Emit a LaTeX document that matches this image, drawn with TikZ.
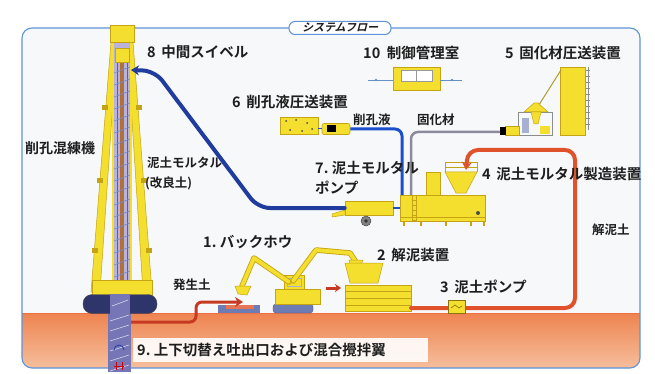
\documentclass[tikz,border=0pt]{standalone}
\usepackage{fontspec}
\newfontfamily\jp{Noto Sans CJK JP}[BoldFont={* Bold}]
\newfontfamily\jpslant{Noto Sans CJK JP}[BoldFont={* Bold},FakeSlant=0.25]
\usetikzlibrary{arrows.meta}

\definecolor{framebl}{HTML}{5E94D8}
\definecolor{panel}{HTML}{F7F8FA}
\definecolor{labeltext}{HTML}{1E1E1E}
\definecolor{flowbl}{HTML}{1F3C9E}
\definecolor{fluidbl}{HTML}{1C4FCB}
\definecolor{hardgray}{HTML}{8C8A9C}
\definecolor{mudred}{HTML}{E0522C}
\definecolor{soilred}{HTML}{C73A22}
\definecolor{yel}{HTML}{F4DE2E}
\definecolor{ydark}{HTML}{C4A414}
\definecolor{trackbl}{HTML}{6E7CB4}
\definecolor{crawler}{HTML}{2E356A}
\definecolor{rodlav}{HTML}{B9B2DC}
\definecolor{rodbelow}{HTML}{7676B6}
\definecolor{rodcore}{HTML}{B0703A}
\definecolor{groundtop}{HTML}{EE8450}
\definecolor{groundbot}{HTML}{F6BE9C}

\begin{document}
\begin{tikzpicture}[x=1pt,y=-1pt,
  lbl/.style={anchor=west, inner sep=0pt, text=labeltext,
    font=\jp\bfseries\fontsize{14.5}{15}\selectfont},
  slbl/.style={anchor=west, inner sep=0pt, text=labeltext,
    font=\jp\bfseries\fontsize{12.5}{13}\selectfont},
  machine/.style={draw=ydark, fill=yel, line width=0.6pt, inner sep=0pt},
  flowline/.style={line width=4pt, line cap=round, rounded corners=12},
  tip/.style={-{Stealth[length=8pt,width=10pt]}}
]
\useasboundingbox (0,0) rectangle (655,374);

% ---------- panel and ground ----------
\fill[panel, rounded corners=10] (22,28) rectangle (640,368);
\begin{scope}
  \clip[rounded corners=10] (22,28) rectangle (640,368);
  \shade[top color=groundtop, bottom color=groundbot] (22,313) rectangle (640,368);
  \draw[groundtop!85!red, line width=1pt] (22,313.5) -- (640,313.5);
\end{scope}
\draw[framebl, line width=1.1pt, rounded corners=10] (22,28) rectangle (640,368);

% title tab
\node[draw=framebl, fill=white, line width=1pt, rounded corners=6,
      minimum width=102pt, minimum height=13pt, inner sep=0pt,
      font=\jpslant\bfseries\fontsize{11}{11}\selectfont, text=labeltext]
      (title) at (340,28) {システムフロー};

% ---------- drilling rig ----------
% rod below ground
\fill[rodbelow] (108,313) rectangle (131,372);
\foreach \y in {318,328,...,368} \draw[white!70!rodbelow, line width=0.6pt] (110,\y+3) -- (129,\y-3);
\draw[flowbl, line width=0.8pt] (114,350) arc[start angle=180, end angle=360, radius=5];
\draw[red!80!black, line width=0.8pt] (114,366) -- (124,366) (116,362) -- (116,370) (122,362) -- (122,370);
% legs
\filldraw[fill=yel, draw=ydark, line width=0.5pt] (111,42) -- (117,42) -- (100,292) -- (91,292) -- cycle;
\filldraw[fill=yel, draw=ydark, line width=0.5pt] (127,42) -- (133,42) -- (152,292) -- (143,292) -- cycle;
\foreach \y/\xl/\xr in {105/104/140, 178/99/145, 248/94/150}
  { \fill[ydark] (\xl-2,\y) rectangle (\xl+4,\y+5);
    \fill[ydark] (\xr-4,\y) rectangle (\xr+2,\y+5); }
% mast
\filldraw[fill=rodlav, draw=yel, line width=2pt] (113,40) rectangle (131,300);
\fill[rodcore] (120,62) rectangle (124,300);
\draw[flowbl!80, line width=1pt] (117,62) -- (117,300) (127,62) -- (127,300);
\foreach \y in {70,82,...,296} \draw[flowbl!60, line width=0.7pt] (114,\y+3) -- (130,\y-3);
\filldraw[fill=yel, draw=ydark, line width=0.5pt] (110,25) rectangle (134,42);
\filldraw[fill=yel, draw=ydark, line width=0.5pt] (115,48) rectangle (129,62);
% base frame and crawler
\filldraw[fill=yel, draw=ydark, line width=0.5pt] (92,280) rectangle (152,295);
\node[draw=black!70, fill=crawler, rounded corners=9, minimum width=74pt,
      minimum height=19pt, inner sep=0pt] (crawler) at (120,304) {};
\fill[rodbelow] (110,294) rectangle (130,314);
\draw[white!70!rodbelow, line width=0.6pt] (112,306) -- (128,300);
\coordinate (swivel) at (131,70);
\coordinate (soilout) at (131,322);

% ---------- control room (10) ----------
\node[machine, minimum width=47pt, minimum height=23pt] (ctrl) at (416.5,78.5) {};
\filldraw[fill=white, draw=black!40, line width=0.5pt] (401,70) rectangle (432,81);
\draw[black!40, line width=0.5pt] (416.5,70) -- (416.5,81);
\draw[framebl!80!gray, line width=0.7pt] (368,80) -- (ctrl.west |- 0,80);
\draw[framebl!80!gray, line width=0.7pt] (ctrl.east |- 0,80) -- (462,80);
\fill[framebl!80!gray] (376,80) circle (1.3pt) (452,80) circle (1.3pt);

% ---------- drilling fluid pump (6) ----------
\node[machine, minimum width=38pt, minimum height=17pt] (plant6) at (299,126) {};
\foreach \p in {(286,121),(296,120),(307,123),(290,130),(302,131),(312,129)}
  \fill[black!70] \p circle (1pt);
\node[machine, minimum width=28pt, minimum height=11pt, rounded corners=2] (pump6) at (336,129) {};
\fill[black] (327,125) rectangle (336,132);
\draw[fluidbl, line width=1pt] (plant6.east |- 0,129) -- (pump6.west);

% ---------- hardener plant (5) ----------
\node[machine, minimum width=25pt, minimum height=68pt] (silo5) at (572.5,101) {};
\draw[black!45, line width=0.6pt] (588,67) -- (588,130);
\foreach \y in {70,76,...,128} \draw[black!45, line width=0.5pt] (586,\y) -- (590,\y);
\draw[ydark!70!gray, line width=1pt] (537,108) -- (561,70);
\draw[black!45, line width=0.6pt] (518,112) rectangle (552,135);
\filldraw[fill=yel, draw=ydark, line width=0.5pt] (524,112) -- (548,112) -- (538,103) -- (534,103) -- cycle;
\filldraw[fill=yel, draw=ydark, line width=0.5pt] (531,112) -- (541,112) -- (538,124) -- (534,124) -- cycle;
\fill[trackbl!60] (522,118) rectangle (529,133);
\fill[yel] (540,126) rectangle (550,134);
\node[machine, minimum width=14pt, minimum height=9pt] (feed5) at (512,131) {};
\fill[black] (500,127) rectangle (506,135);
\coordinate (hardout) at (500,132);

% ---------- connectors into the mixer ----------
\draw[fluidbl, line width=3pt, rounded corners=7] (pump6.east) -- (402,129) -- (402,196);
\draw[hardgray, line width=2.5pt, rounded corners=7] (hardout) -- (411,132) -- (411,196);

% ---------- mortar plant (4) ----------
\node[machine, minimum width=85pt, minimum height=26pt] (mixer) at (442.5,208) {};
\foreach \x in {403,420,445,470,483} \fill[ydark] (\x,221) rectangle (\x+2,226);
\draw[ydark, line width=0.5pt] (400,217) -- (485,217);
\filldraw[fill=yel, draw=ydark, line width=0.5pt] (426,172) rectangle (440,195);
\filldraw[fill=yel, draw=ydark, line width=0.5pt] (445,172) -- (477,172) -- (466,193) -- (456,193) -- cycle;
\draw[ydark, line width=0.5pt] (445,162) -- (445,172) (477,162) -- (477,172) (445,162) -- (477,162) (445,167) -- (477,167);
\draw[ydark, line width=0.5pt] (412,196) -- (412,221) (416,196) -- (416,221);
\foreach \y in {200,205,...,220} \draw[ydark, line width=0.4pt] (412,\y) -- (416,\y);
\fill[black!70] (478,213) circle (2pt);
\coordinate (hopper) at (466,170);

% ---------- mortar pump (7) ----------
\node[machine, minimum width=48pt, minimum height=14pt] (pump7) at (369,208) {};
\filldraw[fill=yel, draw=ydark, line width=0.5pt] (345,210) -- (332,214) -- (332,217) -- (345,215) -- cycle;
\filldraw[fill=black!50, draw=black!70, line width=0.5pt] (366,221) circle (5pt);
\fill[black!80] (366,221) circle (1.8pt);
\draw[fluidbl, line width=1.5pt] (pump7.east) -- (mixer.west |- pump7.east);

% slurry mortar to swivel
\draw[flowbl, flowline, tip] (pump7.west) -- (258,208) -- (155,71) -- (swivel);

% ---------- backhoe (1) ----------
\fill[trackbl] (218,305) rectangle (260,313);
\fill[mudred!80] (226,305) rectangle (254,309);
\node[draw=trackbl!70!black, fill=trackbl, rounded corners=3, minimum width=40pt,
      minimum height=9pt, inner sep=0pt] (bh) at (293,308.5) {};
\filldraw[fill=yel, draw=ydark, line width=0.5pt] (275,289) -- (320,289) -- (320,304) -- (275,304) -- cycle;
\filldraw[fill=yel, draw=ydark, line width=0.5pt] (284,275) rectangle (304,289);
\draw[trackbl!60, line width=0.6pt] (287,278) rectangle (301,286);
\draw[ydark, line width=5.5pt, line cap=round, line join=round] (289,282) -- (254,258) -- (242,286);
\draw[yel, line width=3.8pt, line cap=round, line join=round] (289,282) -- (254,258) -- (242,286);
\filldraw[fill=yel, draw=ydark, line width=0.5pt] (235,286) -- (251,286) -- (247,295) -- (238,294) -- cycle;
\draw[ydark, line width=5.5pt, line cap=round, line join=round] (293,281) -- (316,250) -- (350,253) -- (356,262);
\draw[yel, line width=3.8pt, line cap=round, line join=round] (293,281) -- (316,250) -- (350,253) -- (356,262);
\filldraw[fill=yel, draw=ydark, line width=0.5pt] (349,260) -- (363,260) -- (359,269) -- (351,268) -- cycle;

% ---------- de-clumping unit (2) ----------
\filldraw[fill=yel, draw=ydark, line width=0.5pt] (345,263) -- (383,263) -- (378,283) -- (350,283) -- cycle;
\node[machine, minimum width=66pt, minimum height=26pt] (mud2) at (378,298) {};
\foreach \y in {291,298,305} \draw[ydark, line width=0.5pt] (345,\y) -- (411,\y);
\coordinate (mudout) at (411,308);

% soil from the rig to the backhoe
\draw[soilred, line width=3pt, rounded corners=6, tip] (soilout) -- (196,322) -- (196,302) -- (243,302);
% soil from the backhoe to the unit
\draw[soilred, line width=3pt, -{Stealth[length=6pt,width=8pt]}] (326,288) -- (341,288);

% de-clumped soil loop through the pump (3) to the mixer
\draw[mudred, flowline, rounded corners=10, tip] (mudout) -- (575,308) -- (575,150) -- (468,150) -- (hopper);
\node[machine, draw=ydark!70!black, minimum width=17pt, minimum height=13pt] (pump3) at (456.5,307) {};
\draw[ydark!60!black, line width=0.5pt] (451,308) -- (455,305) -- (459,308) -- (462,306);

% ---------- labels ----------
\node[lbl] (l8) at (147,52) {8\,\ 中間スイベル};
\node[lbl, font=\jp\bfseries\fontsize{14}{15}\selectfont] (lrig) at (25,148) {削孔混練機};
\node[slbl] (lmortar) at (147,163) {泥土モルタル};
\node[slbl] (limp) at (145,183) {(改良土)};
\node[lbl] (l10) at (363,53) {10\ \ 制御管理室};
\node[lbl] (l5) at (505,53) {5\,\ 固化材圧送装置};
\node[lbl] (l6) at (232,102) {6\,\ 削孔液圧送装置};
\node[slbl] (lfluid) at (353,120) {削孔液};
\node[slbl] (lhard) at (417,120) {固化材};
\node[lbl] (l7) at (315,168) {7.\ 泥土モルタル};
\node[lbl] (l7b) at (315,188) {ポンプ};
\node[lbl] (l4) at (482,174) {4\,\ 泥土モルタル製造装置};
\node[lbl] (l1) at (203,242) {1.\ バックホウ};
\node[lbl] (l2) at (377,255) {2\,\ 解泥装置};
\node[slbl] (lsoil) at (173,285) {発生土};
\node[lbl] (l3) at (440,287) {3\,\ 泥土ポンプ};
\node[slbl] (ldecl) at (592,230) {解泥土};
\node[fill=white, fill opacity=0.9, text opacity=1, minimum width=295pt,
      minimum height=24pt, inner sep=0pt] (box9) at (280.5,350) {};
\node[lbl] (l9) at (137,350) {9.\ 上下切替え吐出口および混合攪拌翼};
\end{tikzpicture}
\end{document}
